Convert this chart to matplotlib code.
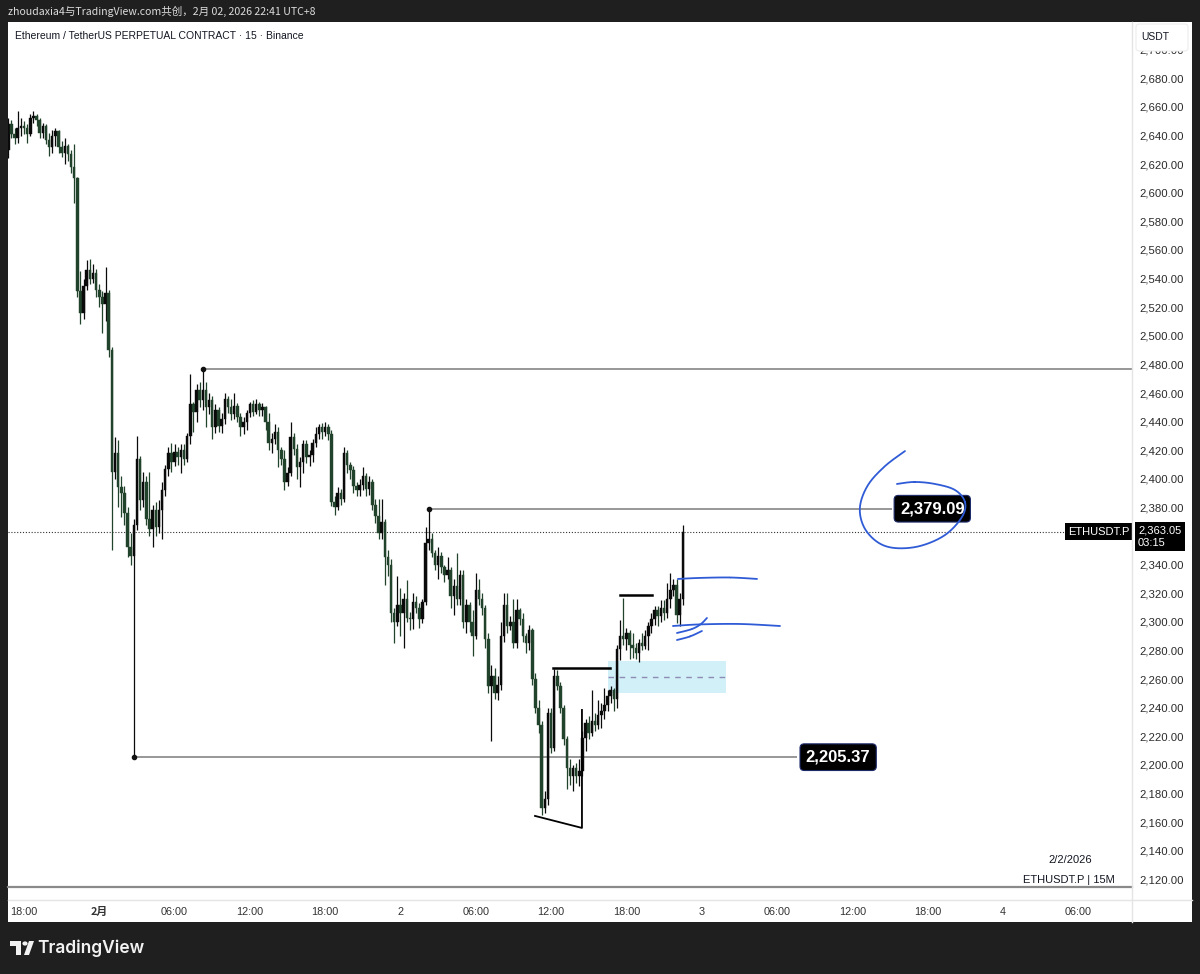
import numpy as np
import matplotlib.pyplot as plt
from matplotlib.patches import Rectangle, Circle, Polygon, FancyBboxPatch
from matplotlib.lines import Line2D
from matplotlib.transforms import blended_transform_factory

W, H = 1200, 974

# 15m candles, ETHUSDT.P, from Jan 31 16:45 to Feb 2 22:30 (UTC+8)
first_open = 2630
closes = [2648, 2641, 2638, 2645, 2647, 2645, 2641, 2652, 2654, 2651,
          2642, 2647, 2637, 2632, 2640, 2643, 2632, 2628, 2633, 2627,
          2618, 2610, 2531, 2516, 2535, 2546, 2540, 2544, 2532, 2527,
          2522, 2530, 2490, 2405, 2418, 2394, 2390, 2376, 2352, 2346,
          2368, 2414, 2385, 2398, 2372, 2365, 2378, 2366, 2378, 2392,
          2407, 2418, 2412, 2419, 2415, 2420, 2414, 2430, 2452, 2447,
          2462, 2455, 2462, 2450, 2455, 2436, 2448, 2437, 2442, 2456,
          2450, 2445, 2451, 2443, 2436, 2440, 2446, 2452, 2447, 2452,
          2448, 2450, 2440, 2425, 2428, 2433, 2420, 2414, 2398, 2404,
          2429, 2421, 2408, 2412, 2424, 2415, 2417, 2425, 2431, 2436,
          2433, 2436, 2431, 2384, 2380, 2390, 2386, 2418, 2410, 2406,
          2395, 2392, 2396, 2402, 2393, 2398, 2382, 2374, 2362, 2370,
          2345, 2340, 2306, 2300, 2312, 2306, 2316, 2303, 2302, 2314,
          2310, 2302, 2314, 2355, 2358, 2348, 2340, 2346, 2338, 2333,
          2336, 2318, 2325, 2316, 2333, 2300, 2312, 2300, 2290, 2322,
          2316, 2310, 2288, 2255, 2262, 2250, 2256, 2290, 2312, 2297,
          2300, 2285, 2308, 2302, 2290, 2285, 2294, 2260, 2240, 2228,
          2170, 2176, 2236, 2212, 2262, 2255, 2240, 2218, 2198, 2192,
          2198, 2192, 2196, 2219, 2229, 2222, 2231, 2228, 2235, 2238,
          2242, 2248, 2252, 2246, 2281, 2290, 2288, 2292, 2284, 2282,
          2278, 2285, 2283, 2290, 2297, 2302, 2308, 2304, 2310, 2306,
          2316, 2322, 2326, 2305, 2316, 2363.05]
highs = [2652, 2651, 2645, 2657, 2652, 2650, 2648, 2655, 2657, 2655,
         2652, 2649, 2648, 2642, 2644, 2645, 2644, 2636, 2638, 2634,
         2630, 2634, 2611, 2545, 2540, 2553, 2554, 2550, 2547, 2536,
         2531, 2548, 2532, 2492, 2429, 2427, 2402, 2395, 2380, 2362,
         2372, 2430, 2416, 2405, 2402, 2405, 2382, 2384, 2385, 2398,
         2410, 2422, 2425, 2424, 2422, 2424, 2424, 2432, 2473, 2454,
         2466, 2468, 2476.5, 2468, 2460, 2458, 2452, 2450, 2446, 2460,
         2458, 2456, 2460, 2453, 2446, 2443, 2448, 2454, 2455, 2456,
         2454, 2453, 2451, 2446, 2432, 2438, 2436, 2422, 2420, 2408,
         2440, 2432, 2424, 2415, 2427, 2427, 2420, 2428, 2436, 2438,
         2439, 2440, 2438, 2434, 2388, 2394, 2393, 2422, 2420, 2412,
         2409, 2398, 2400, 2408, 2404, 2402, 2400, 2386, 2386, 2386,
         2372, 2350, 2344, 2310, 2332, 2324, 2320, 2329, 2307, 2320,
         2318, 2313, 2316, 2366, 2379.09, 2362, 2350, 2352, 2349, 2340,
         2345, 2338, 2330, 2348, 2336, 2336, 2316, 2314, 2308, 2334,
         2330, 2320, 2312, 2292, 2270, 2268, 2262, 2300, 2320, 2320,
         2304, 2316, 2316, 2310, 2306, 2292, 2298, 2296, 2264, 2245,
         2231, 2182, 2240, 2240, 2267, 2266, 2258, 2242, 2220, 2204,
         2200, 2201, 2204, 2224, 2232, 2234, 2252, 2236, 2245, 2243,
         2254, 2252, 2255, 2254, 2284, 2301, 2317, 2296, 2294, 2292,
         2285, 2288, 2292, 2294, 2300, 2306, 2311, 2311, 2315, 2315,
         2327, 2334, 2330, 2330, 2320, 2368]
lows = [2624, 2638, 2634, 2635, 2640, 2641, 2635, 2640, 2649, 2647,
        2638, 2638, 2634, 2626, 2628, 2633, 2628, 2625, 2620, 2622,
        2614, 2593, 2527, 2508, 2512, 2532, 2536, 2537, 2527, 2520,
        2502, 2510, 2485, 2350, 2400, 2380, 2373, 2368, 2345, 2340,
        2205.37, 2364, 2378, 2380, 2368, 2360, 2352, 2360, 2362, 2358,
        2388, 2402, 2405, 2409, 2410, 2404, 2410, 2412, 2424, 2433,
        2440, 2450, 2448, 2436, 2445, 2428, 2432, 2433, 2432, 2438,
        2446, 2441, 2442, 2440, 2430, 2431, 2434, 2443, 2444, 2445,
        2444, 2444, 2434, 2420, 2418, 2424, 2408, 2410, 2392, 2395,
        2402, 2417, 2400, 2394, 2404, 2411, 2409, 2412, 2422, 2428,
        2428, 2430, 2427, 2381, 2375, 2378, 2382, 2384, 2404, 2400,
        2390, 2388, 2388, 2392, 2388, 2389, 2378, 2369, 2358, 2358,
        2326, 2332, 2300, 2285, 2297, 2290, 2282, 2300, 2294, 2295,
        2306, 2296, 2299, 2312, 2350, 2345, 2336, 2330, 2334, 2328,
        2330, 2310, 2305, 2312, 2312, 2296, 2292, 2293, 2276, 2288,
        2312, 2305, 2282, 2250, 2217, 2246, 2245, 2252, 2286, 2292,
        2294, 2282, 2282, 2298, 2286, 2278, 2280, 2256, 2236, 2222,
        2165, 2166, 2172, 2208, 2210, 2252, 2236, 2214, 2183, 2186,
        2182, 2187, 2185, 2192, 2210, 2218, 2220, 2224, 2225, 2226,
        2232, 2238, 2243, 2238, 2240, 2273, 2284, 2280, 2274, 2275,
        2274, 2272, 2280, 2281, 2280, 2292, 2298, 2297, 2300, 2301,
        2303, 2310, 2318, 2299, 2297, 2312]

# the 2,360.00 label sits under the live price tag, so it is not shown
price_ticks = [p for p in range(2120, 2720, 20) if p != 2360]
time_ticks = [0, 6, 12, 18, 24, 30, 36, 42, 48, 54, 60, 66, 72, 78, 84]
time_labels = ['18:00', '2月', '06:00', '12:00', '18:00', '2', '06:00', '12:00',
               '18:00', '3', '06:00', '12:00', '18:00', '4', '06:00']

# levels marked on the chart
high_level = 2476.5
mid_level = 2379.09
low_level = 2205.37
last_price = 2363.05

n = len(closes)
hours = -1.25 + 0.25 * np.arange(n)
opens = np.array([first_open] + closes[:-1])
closes = np.array(closes)
highs = np.array(highs)
lows = np.array(lows)


def fx(x):
    return x / W


def fy(y):
    return 1 - y / H


def smooth(pts, k=14):
    p = np.asarray(pts, float)
    p = np.vstack([p[0], p, p[-1]])
    t = np.linspace(0, 1, k)[:, None]
    out = []
    for i in range(1, len(p) - 2):
        p0, p1, p2, p3 = p[i - 1], p[i], p[i + 1], p[i + 2]
        out.append(0.5 * (2 * p1 + (p2 - p0) * t + (2 * p0 - 5 * p1 + 4 * p2 - p3) * t ** 2
                          + (3 * p1 - p0 - 3 * p2 + p3) * t ** 3))
    return np.vstack(out)


plt.rcParams['font.family'] = ['Liberation Sans', 'DejaVu Sans']
fig = plt.figure(figsize=(12, 9.74), dpi=100, facecolor='#1f1f1f')
fig.add_artist(Rectangle((fx(8), fy(922)), 1184 / W, 900 / H, transform=fig.transFigure,
                         fc='white', ec='none', zorder=-5))

ax = fig.add_axes([fx(8), fy(887), 1124 / W, 865 / H])
ax.set_facecolor('white')
ax.set_xlim(-1.275, 88.29)
ax.set_ylim(2114.6, 2719.4)
for s in ['top', 'left', 'right']:
    ax.spines[s].set_visible(False)
ax.spines['bottom'].set_color('#8a8a8a')
ax.spines['bottom'].set_linewidth(1.6)
ax.set_xticks([])
ax.yaxis.tick_right()
ax.set_yticks(price_ticks)
ax.set_yticklabels([f'{p:,.2f}' for p in price_ticks])
ax.tick_params(axis='y', length=0, pad=5, labelsize=8.2, labelcolor='#2b2b2b')

# time axis labels
for t, lab in zip(time_ticks, time_labels):
    bold = lab == '2月'
    ax.text(t, -0.029, lab, transform=ax.get_xaxis_transform(), ha='center', va='center',
            fontsize=7.8, color='#333333', fontweight='bold' if bold else 'normal',
            family=['Noto Sans CJK SC', 'DejaVu Sans'] if bold else ['Liberation Sans'],
            clip_on=False)

# candles
up = closes >= opens
cols = np.where(up, '#0a0a0a', '#21432c')
ax.vlines(hours, lows, highs, colors=cols, linewidth=0.9, zorder=3)
ax.bar(hours, np.maximum(np.abs(closes - opens), 0.6), bottom=np.minimum(opens, closes),
       width=0.2, color=cols, linewidth=0.3, edgecolor=cols, zorder=4)

# horizontal levels, anchored at the candles that made them
i_hi = int(np.where(highs == high_level)[0][0])
i_mid = int(np.where(highs == mid_level)[0][0])
i_lo = int(np.where(lows == low_level)[0][0])
ax.hlines(high_level, hours[i_hi], 88.29, colors='#7a7a7a', lw=1.1, zorder=2)
ax.hlines(mid_level, hours[i_mid], 69.2, colors='#7a7a7a', lw=1.1, zorder=2)
ax.hlines(low_level, hours[i_lo], 61.6, colors='#7a7a7a', lw=1.1, zorder=2)
ax.plot([hours[i_hi], hours[i_mid], hours[i_lo]], [high_level, mid_level, low_level],
        'o', ms=3, color='#111111', zorder=5)

box = dict(boxstyle='round,pad=0.35,rounding_size=0.25', fc='black', ec='#1d2b6b', lw=0.8)
ax.text(69.8, mid_level, f'{mid_level:,.2f}', ha='left', va='center', color='white',
        fontsize=12, fontweight='bold', bbox=box, zorder=6)
ax.text(62.3, low_level, f'{low_level:,.2f}', ha='left', va='center', color='white',
        fontsize=12, fontweight='bold', bbox=box, zorder=6)

# last price line and labels
ax.hlines(last_price, -1.275, 83.2, colors='#333333', linestyles=(0, (1, 1.6)), lw=0.8, zorder=2)
trans = blended_transform_factory(fig.transFigure, ax.transData)
ax.text(fx(1099), last_price, 'ETHUSDT.P', transform=trans, ha='center', va='center',
        color='white', fontsize=8, clip_on=False, zorder=7,
        bbox=dict(boxstyle='square,pad=0.3', fc='black', ec='none'))
ax.text(fx(1138), last_price + 4.2, f'{last_price:,.2f}\n03:15', transform=trans, ha='left',
        va='top', color='white', fontsize=8, linespacing=1.3, clip_on=False, zorder=7,
        bbox=dict(boxstyle='square,pad=0.3', fc='black', ec='none'))

# drawn structure: zone, black lines
ax.add_patch(Rectangle((46.53, 2250.3), 55.94 - 46.53, 2272.6 - 2250.3, fc='#d2f0f7',
                       ec='none', zorder=1))
ax.hlines(2261.5, 46.53, 55.94, colors='#8e8cb4', linestyles=(0, (4, 4)), lw=1.0, zorder=2)
ax.plot([42.15, 46.7], [2267.7, 2267.7], color='black', lw=1.8, zorder=5)
ax.plot([47.49, 50.04], [2319.1, 2319.1], color='black', lw=1.8, zorder=5)
ax.plot([40.72, 44.46, 44.46], [2164.3, 2155.9, 2238.4], color='black', lw=1.3, zorder=5)

# hand drawn blue marks
blue = '#2f5bd6'
marks = [
    [(52.11, 2330.0), (53.86, 2330.7), (56.25, 2331.0), (58.41, 2330.0)],
    [(51.71, 2297.1), (53.86, 2298.2), (57.05, 2298.5), (60.24, 2297.1)],
    [(52.03, 2292.2), (53.23, 2295.0), (53.94, 2298.5), (54.42, 2302.7)],
    [(52.03, 2287.3), (53.07, 2289.8), (54.02, 2293.6)],
    [(70.20, 2419.4), (68.61, 2408.9), (67.25, 2395.6), (66.61, 2380.3), (66.93, 2366.3),
     (68.0, 2355.8), (69.40, 2351.6), (71.39, 2353.0), (73.39, 2360.7), (74.74, 2373.3),
     (74.98, 2383.8), (74.18, 2392.2), (72.59, 2396.4), (70.96, 2397.8), (69.56, 2396.4)],
]
for m in marks:
    c = smooth(m)
    ax.plot(c[:, 0], c[:, 1], color=blue, lw=1.3, solid_capstyle='round', zorder=8)

# frame lines
fig.add_artist(Line2D([fx(8), fx(1192)], [fy(900), fy(900)], color='#e4e4e4', lw=1))
fig.add_artist(Line2D([fx(1132), fx(1132)], [fy(22), fy(922)], color='#e4e4e4', lw=1))

# header and titles
fig.text(fx(8), fy(11), 'zhoudaxia4与TradingView.com共创，2月 02, 2026 22:41 UTC+8', color='#dcdcdc',
         fontsize=7.6, va='center', family=['Noto Sans CJK SC', 'DejaVu Sans'])
fig.text(fx(15), fy(36), 'Ethereum / TetherUS PERPETUAL CONTRACT · 15 · Binance', color='#131722',
         fontsize=7.5, va='center')
fig.add_artist(FancyBboxPatch((fx(1136), fy(51)), 52 / W, 27 / H, transform=fig.transFigure,
                              boxstyle='round,pad=0,rounding_size=0.003', fc='white',
                              ec='#ececec', lw=0.8, zorder=3))
fig.text(fx(1155), fy(37), 'USDT', color='#131722', fontsize=7.5, ha='center', va='center', zorder=4)
fig.text(fx(1070), fy(860), '2/2/2026', color='#131722', fontsize=8, ha='center', va='center')
fig.text(fx(1069), fy(880), 'ETHUSDT.P | 15M', color='#131722', fontsize=8, ha='center', va='center')

# TradingView logo
logo = '#f2f2f2'
fig.add_artist(Rectangle((fx(10), fy(946)), 11 / W, 5 / H, transform=fig.transFigure, fc=logo, ec='none'))
fig.add_artist(Rectangle((fx(16), fy(955)), 5 / W, 14 / H, transform=fig.transFigure, fc=logo, ec='none'))
fig.add_artist(Circle((fx(25), fy(943.5)), 2.6 / W, transform=fig.transFigure, fc=logo, ec='none'))
fig.add_artist(Polygon([(fx(24), fy(955)), (fx(29), fy(955)), (fx(34), fy(941)), (fx(29), fy(941))],
                       closed=True, transform=fig.transFigure, fc=logo, ec='none'))
fig.text(fx(37), fy(948), 'TradingView', color=logo, fontsize=12.5, fontweight='semibold',
         va='center', family=['Inter', 'DejaVu Sans'])

fig.savefig('out.png', dpi=100, facecolor=fig.get_facecolor())
